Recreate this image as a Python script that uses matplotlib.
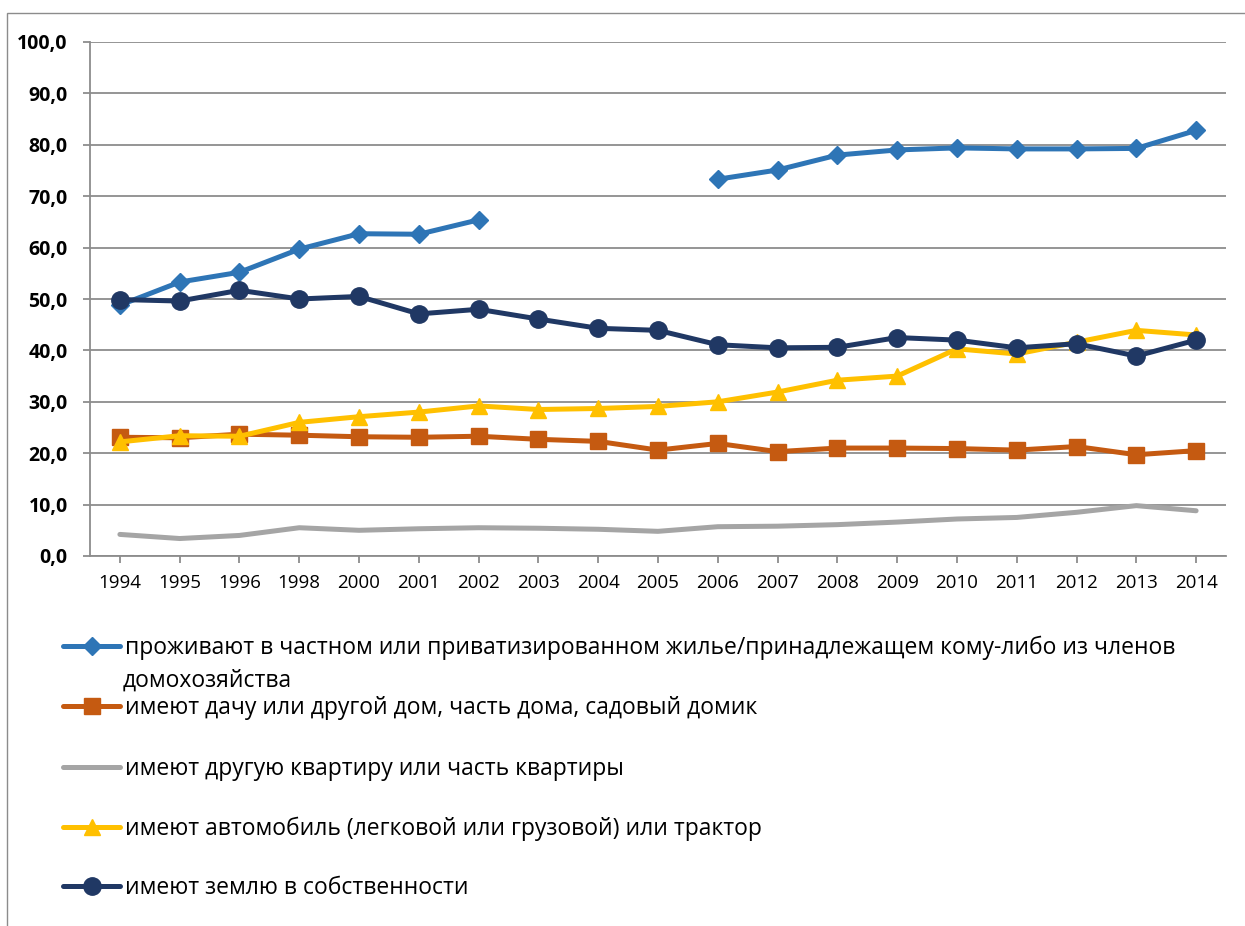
import matplotlib.pyplot as plt
import numpy as np
from matplotlib.patches import Rectangle

plt.rcParams['font.family'] = ['Open Sans', 'DejaVu Sans']

years = ['1994', '1995', '1996', '1998', '2000', '2001', '2002', '2003', '2004', '2005',
         '2006', '2007', '2008', '2009', '2010', '2011', '2012', '2013', '2014']

private_home = [48.8, 53.3, 55.2, 59.7, 62.7, 62.6, 65.4, np.nan, np.nan, np.nan,
                73.3, 75.1, 78.0, 79.0, 79.4, 79.2, 79.2, 79.3, 82.8]
dacha = [23.1, 23.0, 23.7, 23.5, 23.2, 23.1, 23.3, 22.7, 22.3, 20.6,
         21.9, 20.3, 21.0, 21.0, 20.9, 20.6, 21.3, 19.7, 20.5]
other_flat = [4.2, 3.4, 4.0, 5.5, 5.0, 5.3, 5.5, 5.4, 5.2, 4.8,
              5.7, 5.8, 6.1, 6.6, 7.2, 7.5, 8.5, 9.8, 8.8]
car = [22.2, 23.4, 23.3, 26.0, 27.1, 28.0, 29.2, 28.5, 28.7, 29.1,
       30.0, 31.9, 34.2, 35.0, 40.3, 39.3, 41.6, 43.9, 43.0]
land = [49.9, 49.6, 51.7, 50.0, 50.5, 47.1, 48.0, 46.1, 44.3, 43.9,
        41.1, 40.5, 40.6, 42.5, 42.0, 40.5, 41.3, 38.9, 42.0]

labels = ['проживают в частном или приватизированном жилье/принадлежащем кому-либо из членов',
          'имеют дачу или другой дом, часть дома, садовый домик',
          'имеют другую квартиру или часть квартиры',
          'имеют автомобиль (легковой или грузовой) или трактор',
          'имеют землю в собственности']
label_extra = 'домохозяйства'

series = [private_home, dacha, other_flat, car, land]
colors = ['#2E75B6', '#C55A11', '#A5A5A5', '#FFC000', '#203864']
markers = ['D', 's', None, '^', 'o']
msizes = [9, 11, 0, 12, 12.5]

W, H = 1245, 926
fig = plt.figure(figsize=(W / 100, H / 100), dpi=100)

# outer chart frame (right/bottom run off the canvas)
fig.patches.append(Rectangle((7 / W, -0.05), 1.1, 1 - 13 / H + 0.05, transform=fig.transFigure,
                             fill=False, edgecolor='#8c8c8c', linewidth=1.0))

ax = fig.add_axes([90 / W, 1 - 556 / H, (1226 - 90) / W, (556 - 42) / H])
x = np.arange(len(years))

handles = []
for vals, c, m, ms in zip(series, colors, markers, msizes):
    line, = ax.plot(x, vals, color=c, linewidth=3.6, marker=m, markersize=ms,
                    markeredgecolor=c, markerfacecolor=c, solid_capstyle='round')
    handles.append(line)

ax.set_xlim(-0.5, len(years) - 0.5)
ax.set_ylim(0, 100)
ax.set_yticks(np.arange(0, 101, 10))
ax.set_yticklabels([f'{v:.1f}'.replace('.', ',') for v in np.arange(0, 101, 10)],
                   fontsize=14, fontweight='bold')
ax.set_xticks(x)
ax.set_xticklabels(years, fontsize=13.5)
ax.grid(axis='y', color='#8c8c8c', linewidth=1.3)
ax.set_axisbelow(True)
for s in ['top', 'right']:
    ax.spines[s].set_visible(False)
for s in ['left', 'bottom']:
    ax.spines[s].set_color('#8c8c8c')
    ax.spines[s].set_linewidth(1.3)
ax.tick_params(axis='y', length=5, width=1.3, color='#8c8c8c', pad=11)
ax.tick_params(axis='x', length=5, width=1.3, color='#8c8c8c', pad=8)

# legend: one entry per row, as in the original layout
rows = [648, 708, 769, 829, 888]
for h, lab, yp in zip(handles, labels, rows):
    fig.legend(handles=[h], labels=[lab], loc='center left',
               bbox_to_anchor=(63 / W, 1 - yp / H), frameon=False,
               borderpad=0, borderaxespad=0, handlelength=2.5,
               handletextpad=0.2, fontsize=16.5)
fig.text(123 / W, 1 - 681 / H, label_extra, fontsize=16.5, va='center', ha='left')

fig.savefig('out.png', dpi=100)
